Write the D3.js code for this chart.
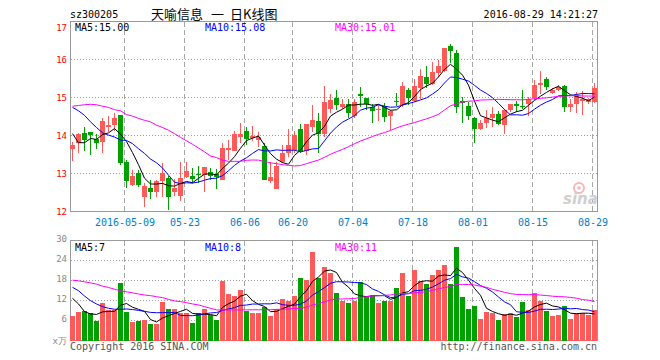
<!DOCTYPE html>
<html><head><meta charset="utf-8">
<script src="https://cdn.jsdelivr.net/npm/d3@7"></script>
<style>body{margin:0;background:#fff}svg{display:block}</style>
</head><body><svg id="c" width="660" height="360"></svg>
<script>
const dates = ["04-25","04-26","04-27","04-28","04-29","05-03","05-04","05-05","05-06",
"05-09","05-10","05-11","05-12","05-13","05-16","05-17","05-18","05-19","05-20",
"05-23","05-24","05-25","05-26","05-27","05-30","05-31","06-01","06-02","06-03",
"06-06","06-07","06-08","06-13","06-14","06-15","06-16","06-17",
"06-20","06-21","06-22","06-23","06-24","06-27","06-28","06-29","06-30","07-01",
"07-04","07-05","07-06","07-07","07-08","07-11","07-12","07-13","07-14","07-15",
"07-18","07-19","07-20","07-21","07-22","07-25","07-26","07-27","07-28","07-29",
"08-01","08-02","08-03","08-04","08-05","08-08","08-09","08-10","08-11","08-12",
"08-15","08-16","08-17","08-18","08-19","08-22","08-23","08-24","08-25","08-26","08-29"];
const open = [13.65,13.79,14.07,14.08,13.92,13.83,14.23,14.27,14.53,13.31,
12.69,13.02,12.38,12.61,12.52,12.81,12.87,12.52,12.40,12.92,
12.93,13.00,12.96,13.04,13.00,12.84,13.61,13.59,13.96,14.12,
13.93,13.89,13.72,12.81,12.60,13.31,13.54,13.63,14.16,13.59,
14.23,14.38,14.03,14.71,15.00,14.74,14.82,14.51,15.09,14.99,
14.75,14.67,14.77,14.51,14.91,14.80,15.21,14.91,15.24,15.54,
15.35,15.65,15.70,16.35,16.16,14.91,14.77,14.47,14.17,14.33,
14.47,14.56,14.27,14.67,14.82,14.77,14.82,15.00,15.32,15.50,
15.12,15.21,15.30,14.75,14.82,14.91,14.88,14.88];
const high = [13.82,14.07,14.23,14.09,14.04,14.45,14.51,14.58,14.55,13.36,
13.09,13.09,12.74,12.84,12.84,13.28,12.93,12.85,13.30,13.30,
13.15,13.20,13.17,13.15,13.13,13.81,13.87,14.13,14.33,14.23,
14.25,14.09,13.80,13.31,13.31,13.74,14.16,14.12,14.30,14.30,
14.80,14.58,15.30,15.10,15.21,14.95,14.97,14.97,15.28,15.00,
14.82,14.80,14.86,14.66,15.12,15.41,15.26,15.50,15.76,15.82,
15.94,16.00,16.30,16.40,16.24,15.02,14.88,14.48,14.40,14.67,
14.74,14.65,14.71,14.82,14.90,15.21,15.02,15.47,15.70,15.54,
15.26,15.33,15.32,14.95,15.15,15.17,15.00,15.37];
const low = [13.34,13.54,13.59,13.48,13.65,13.55,14.09,14.12,13.22,12.63,
12.67,12.65,12.12,12.32,12.38,12.37,12.05,12.40,12.28,12.87,
12.75,12.74,12.52,12.84,12.60,12.82,13.35,13.58,13.79,13.74,
13.85,13.70,12.82,12.74,12.58,13.28,13.44,13.55,13.55,13.50,
14.09,13.54,13.96,14.58,14.67,14.71,14.47,14.47,14.74,14.68,
14.33,14.38,14.36,14.14,14.77,14.75,14.80,14.88,14.97,15.26,
15.33,15.54,15.67,15.91,14.59,14.32,14.42,13.81,14.15,14.21,
14.23,14.27,14.03,14.62,14.62,14.71,14.51,14.93,15.10,15.21,
15.08,15.18,14.62,14.62,14.58,14.53,14.82,14.86];
const close = [13.75,14.05,13.89,14.01,13.79,14.38,14.28,14.45,13.28,12.81,
12.93,12.69,12.67,12.52,12.80,13.02,12.38,12.62,12.87,13.06,
12.85,12.96,13.17,12.93,12.91,13.68,13.67,14.03,14.03,13.92,
14.00,13.95,12.84,12.91,13.19,13.54,13.74,14.01,13.59,14.29,
14.42,14.03,14.88,14.93,14.80,14.82,14.58,14.88,15.04,14.82,
14.65,14.71,14.49,14.65,14.88,15.30,15.00,15.30,15.56,15.35,
15.67,15.82,16.29,16.23,14.74,14.86,14.51,14.17,14.33,14.45,
14.56,14.30,14.68,14.82,14.78,14.74,14.95,15.32,15.38,15.28,
15.21,15.28,14.75,14.84,15.06,14.97,14.95,15.25];
const volume = [7.38,8.57,8.97,8.18,5.98,11.26,9.17,9.17,17.33,8.57,
5.68,5.98,6.18,4.99,4.99,11.56,9.47,9.47,8.18,8.18,
5.38,8.28,9.47,7.68,6.18,17.93,13.95,13.35,15.15,8.97,
8.37,8.37,10.16,7.38,9.37,12.46,11.95,13.35,18.64,18.13,
26.6,18.64,22.1,20.3,14.34,11.95,11.36,11.95,17.45,13.15,
13.35,11.36,11.95,11.95,15.75,20.3,13.35,21.1,17.93,16.94,
19.63,21.1,22.7,16.94,28.1,13.15,9.56,10.37,6.57,8.67,
8.37,6.18,7.98,8.37,6.99,11.56,9.17,14.34,11.95,8.97,
7.38,7.68,10.37,6.57,8.18,8.18,7.68,9.17];
const ma5Lead = [14.05,13.81,13.81,13.92];
const ma10Lead = [14.74,14.65,14.53,14.36,14.21,14.07,14.01,13.96,13.88];
const ma30Lead = [14.77,14.79,14.81,14.82,14.81,14.77,14.74,14.68,14.65,14.55,14.51,14.45,14.40,14.36,14.27,14.21,14.14,14.05,13.95,13.86,13.77,13.67,13.57,13.46,13.42,13.35,13.32,13.32,13.32];
const vma5Lead = [12.67,10.96,8.67,7.98];
const vma10Lead = [15.95,14.94,13.35,11.95,10.96,10.16,9.67,9.37,9.37];
const vma30Lead = [18.1,17.9,17.6,17.3,16.9,16.3,15.9,15.4,14.9,14.6,14.3,13.95,13.65,13.45,13.15,12.85,12.35,11.86,11.66,11.36,10.96,10.67,10.16,9.67,9.17,9.17,9.17,9.17,9.17];
const priceTicks = [12,13,14,15,16,17];
const volTicks = [6,12,18,24,30];
const tickDates = ["05-09","05-23","06-06","06-20","07-04","07-18","08-01","08-15","08-29"];
const tickLabels = ["2016-05-09","05-23","06-06","06-20","07-04","07-18","08-01","08-15","08-29"];
const code = "sz300205", titleParts = ["天喻信息", "一", "日K线图"], stamp = "2016-08-29 14:21:27";
const priceMaLabels = ["MA5:15.00","MA10:15.08","MA30:15.01"];
const volMaLabels = ["MA5:7","MA10:8","MA30:11"];

const RED = "#ff5a5a", GREEN = "#00a000", MAC = ["#000000","#0000ff","#ff00ff"];
const MONO = "'DejaVu Sans Mono', 'Liberation Mono', monospace";
const svg = d3.select("#c");
const n = dates.length;
const x = d3.scaleLinear().domain([0, n - 1]).range([72.5, 72.5 + 6 * (n - 1)]);
const xg = x.copy().range([70.5, 70.5 + 6 * (n - 1)]);
const yP = d3.scaleLinear().domain([12, 17]).range([211.5, 21.5]);
const yV = d3.scaleLinear().domain([0, 30]).range([340.5, 240.5]);
const L = 70.5, R = 597.5;

function ma(arr, w, lead) {
  return arr.map((v, i) => i < lead.length ? lead[i] : d3.mean(arr.slice(i - w + 1, i + 1)));
}
const tickIdx = tickDates.map(d => dates.indexOf(d));

// header
svg.append("text").attr("x", 70).attr("y", 18).attr("font-family", MONO).attr("font-size", 10).text(code);
const tt = svg.append("text").attr("y", 19).attr("font-family", "'Noto Sans CJK SC'").attr("font-size", 13);
[151, 211, 230].forEach((px, k) => tt.append("tspan").attr("x", px).text(titleParts[k]));
svg.append("text").attr("x", 598).attr("y", 18).attr("text-anchor", "end").attr("font-family", MONO).attr("font-size", 10).text(stamp);

function panel(y, ticks, top, bottom) {
  const g = svg.append("g").attr("shape-rendering", "crispEdges");
  g.selectAll(".h").data(ticks.filter(t => y(t) > top + 1 && y(t) < bottom - 1)).join("line")
    .attr("x1", L).attr("x2", R).attr("y1", d => y(d)).attr("y2", d => y(d))
    .attr("stroke", "#a0a0a0").attr("stroke-dasharray", "1,2");
  g.selectAll(".v").data(tickIdx).join("line")
    .attr("x1", d => Math.floor(xg(d)) + 0.5).attr("x2", d => Math.floor(xg(d)) + 0.5)
    .attr("y1", top).attr("y2", bottom).attr("stroke", "#a8a8a8").attr("stroke-dasharray", "5,3");
  g.append("rect").attr("x", L).attr("y", top).attr("width", R - L).attr("height", bottom - top)
    .attr("fill", "none").attr("stroke", "#9a9a9a");
}
panel(yP, priceTicks, 21.5, 211.5);
panel(yV, volTicks, 240.5, 340.5);

// sina watermark
const wm = svg.append("g");
wm.append("circle").attr("cx", 579).attr("cy", 188).attr("r", 5).attr("fill", "none").attr("stroke", "#f4b8b8").attr("stroke-width", 2);
wm.append("circle").attr("cx", 579).attr("cy", 188).attr("r", 1.8).attr("fill", "#f4b8b8");
wm.append("text").attr("x", 563).attr("y", 204).attr("font-family", "'DejaVu Sans'").attr("font-weight", "bold")
  .attr("font-style", "italic").attr("font-size", 15).attr("fill", "#cfcfcf").text("sina");

// candles
const cg = svg.append("g").attr("shape-rendering", "crispEdges");
const idx = d3.range(n);
const col = i => close[i] >= open[i] ? RED : GREEN;
cg.selectAll(".w").data(idx).join("line")
  .attr("x1", i => Math.floor(x(i)) + 0.5).attr("x2", i => Math.floor(x(i)) + 0.5)
  .attr("y1", i => yP(high[i])).attr("y2", i => yP(low[i])).attr("stroke", col);
cg.selectAll(".b").data(idx).join("rect")
  .attr("x", i => Math.round(x(i) - 2.5)).attr("width", 5)
  .attr("y", i => yP(Math.max(open[i], close[i])))
  .attr("height", i => Math.max(1, Math.abs(yP(open[i]) - yP(close[i]))))
  .attr("fill", col);

// volume bars
cg.selectAll(".vb").data(idx).join("rect")
  .attr("x", i => Math.round(x(i) - 2.5)).attr("width", 5)
  .attr("y", i => yV(volume[i])).attr("height", i => yV(0) - yV(volume[i]))
  .attr("fill", col);

// MA lines
function lines(data, y, leads) {
  [5, 10, 30].forEach((w, k) => {
    const vals = ma(data, w, leads[k]);
    svg.append("path").datum(vals)
      .attr("d", d3.line().x((d, i) => x(i)).y(d => y(d)))
      .attr("fill", "none").attr("stroke", MAC[k]).attr("stroke-width", 1);
  });
}
lines(close, yP, [ma5Lead, ma10Lead, ma30Lead]);
lines(volume, yV, [vma5Lead, vma10Lead, vma30Lead]);

// MA labels
const labX = [75, 205, 335];
priceMaLabels.forEach((t, k) => svg.append("text").attr("x", labX[k]).attr("y", 30.5)
  .attr("font-family", MONO).attr("font-size", 10).attr("fill", MAC[k]).text(t));
volMaLabels.forEach((t, k) => svg.append("text").attr("x", labX[k]).attr("y", 250.5)
  .attr("font-family", MONO).attr("font-size", 10).attr("fill", MAC[k]).text(t));

// axes
const ay = svg.append("g").attr("transform", "translate(67,0)")
  .call(d3.axisLeft(yP).tickValues(priceTicks).tickSize(0).tickPadding(0).tickFormat(d3.format("d")));
ay.select(".domain").remove();
ay.selectAll("text").attr("fill", "#ff0000").attr("font-family", MONO).attr("font-size", 9)
  .attr("dy", d => d === 17 ? "0.95em" : "0.32em");

const av = svg.append("g").attr("transform", "translate(67,-1.5)")
  .call(d3.axisLeft(yV).tickValues(volTicks).tickSize(0).tickPadding(0).tickFormat(d3.format("d")));
av.select(".domain").remove();
av.selectAll("text").attr("fill", "#888").attr("font-family", MONO).attr("font-size", 9);
svg.append("text").attr("x", 67).attr("y", 344).attr("text-anchor", "end").attr("font-family", MONO)
  .attr("font-size", 9).attr("fill", "#888").text("x万");

const ax = svg.append("g").attr("transform", "translate(0,211.5)")
  .call(d3.axisBottom(xg).tickValues(tickIdx).tickSize(0).tickPadding(7).tickFormat((d, i) => tickLabels[i]));
ax.select(".domain").remove();
ax.selectAll("text").attr("fill", "#0080d0").attr("font-family", MONO).attr("font-size", 10);

// footer
svg.append("text").attr("x", 70).attr("y", 349.5).attr("font-family", MONO).attr("font-size", 10)
  .attr("fill", "#555").text("Copyright 2016 SINA.COM");
svg.append("text").attr("x", 597).attr("y", 349.5).attr("text-anchor", "end").attr("font-family", MONO)
  .attr("font-size", 10).attr("fill", "#555").text("http://finance.sina.com.cn");
</script></body></html>
